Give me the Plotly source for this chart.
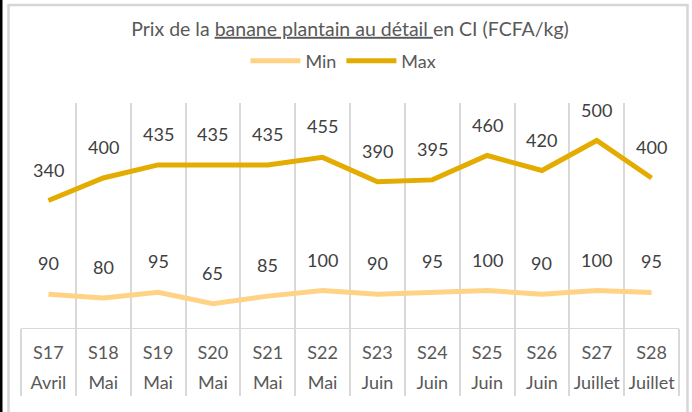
import plotly.graph_objects as go

weeks = ["S17", "S18", "S19", "S20", "S21", "S22", "S23", "S24", "S25", "S26", "S27", "S28"]
months = ["Avril", "Mai", "Mai", "Mai", "Mai", "Mai", "Juin", "Juin", "Juin", "Juin", "Juillet", "Juillet"]
min_vals = [90, 80, 95, 65, 85, 100, 90, 95, 100, 90, 100, 95]
max_vals = [340, 400, 435, 435, 435, 455, 390, 395, 460, 420, 500, 400]

MIN_COLOR = "#FFD386"
MAX_COLOR = "#E4AB00"
TXT = "#595959"
GRID = "#D9D9D9"
BORDER = "#D6D6D6"
FONT = "Lato"

idx = list(range(len(weeks)))

fig = go.Figure()
fig.add_trace(go.Scatter(x=idx, y=min_vals, mode="lines", name="Min",
                         line=dict(color=MIN_COLOR, width=5)))
fig.add_trace(go.Scatter(x=idx, y=max_vals, mode="lines", name="Max",
                         line=dict(color=MAX_COLOR, width=5)))

annotations = []
for series in (min_vals, max_vals):
    for i, v in zip(idx, series):
        annotations.append(dict(x=i, y=v, xref="x", yref="y", text=str(v), showarrow=False,
                                yshift=31, font=dict(family=FONT, size=18, color="#404040")))

# plot area: x 21..679, y 103..328
L, R, T, B = 21, 13, 103, 84
W, H = 692, 412
pw, ph = W - L - R, H - T - B
def px_x(p):
    return (p - L) / pw
def px_y(p):
    return (H - B - p) / ph

shapes = [
    dict(type="line", xref="paper", yref="paper", x0=px_x(1), x1=px_x(1), y0=px_y(-5), y1=px_y(420),
         line=dict(color="#000000", width=3), layer="above"),
    dict(type="rect", xref="paper", yref="paper", x0=px_x(8.5), x1=px_x(687.5), y0=px_y(5), y1=px_y(440),
         line=dict(color=BORDER, width=2.5), fillcolor="rgba(0,0,0,0)", layer="above"),
]

fig.update_layout(
    width=W, height=H,
    margin=dict(l=L, r=R, t=T, b=B),
    paper_bgcolor="white", plot_bgcolor="white",
    font=dict(family=FONT, color=TXT),
    title=dict(text="Prix de la <u>banane plantain au détail </u>en CI (FCFA/kg)",
               x=0.5, xref="paper", xanchor="center", y=1 - 29 / H, yanchor="middle",
               font=dict(family=FONT, size=19.5, color=TXT)),
    legend=dict(orientation="h", x=0.49, xanchor="center", xref="paper", y=1 - 61 / H, yref="container",
                yanchor="middle", font=dict(family=FONT, size=18, color=TXT), itemwidth=50),
    showlegend=True,
    annotations=annotations,
    shapes=shapes,
    xaxis=dict(range=[-0.5, len(weeks) - 0.5], tickvals=idx, ticktext=weeks,
               showgrid=False, zeroline=False, showline=True, linecolor=GRID, linewidth=1,
               ticks="", tickfont=dict(family=FONT, size=18, color=TXT), ticklabelstandoff=8,
               minor=dict(tick0=-0.5, dtick=1, showgrid=True, gridcolor=GRID, gridwidth=2,
                          ticks="outside", ticklen=67, tickcolor=GRID, tickwidth=2)),
    xaxis2=dict(overlaying="x", matches="x", side="bottom", anchor="y", range=[-0.5, len(weeks) - 0.5],
                tickvals=idx, ticktext=months, showgrid=False, zeroline=False, showline=False,
                ticks="", tickfont=dict(family=FONT, size=18, color=TXT), ticklabelstandoff=42),
    yaxis=dict(range=[0, 600], visible=False, showgrid=False, zeroline=False),
)
fig.add_trace(go.Scatter(x=[0], y=[None], xaxis="x2", showlegend=False, hoverinfo="skip"))

fig.write_html("out.html", config={"displayModeBar": False},
               post_script="document.body.style.margin='0';")
